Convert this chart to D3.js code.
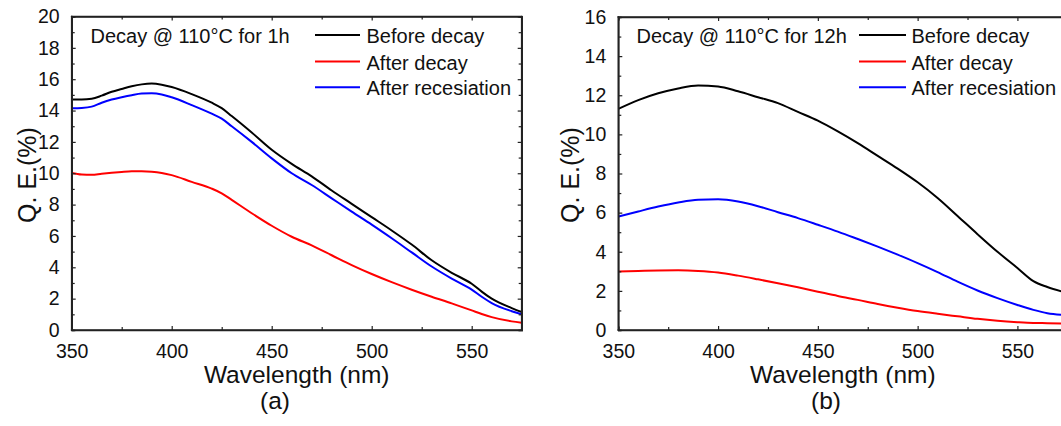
<!DOCTYPE html>
<html>
<head>
<meta charset="utf-8">
<script src="https://cdn.jsdelivr.net/npm/d3@7"></script>
<style>
  html, body { margin: 0; padding: 0; background: #fff; }
  svg { display: block; }
  text { font-family: "Liberation Sans", Arial, Helvetica, sans-serif; fill: #111; }
</style>
</head>
<body>
<svg id="chart" width="1061" height="426"></svg>
<script>
// ---------------- DATA ----------------
const seriesNames = ["Before decay", "After decay", "After recesiation"];
const seriesColors = ["#000000", "#ff0000", "#0000ff"];

// Panel (a): decay @ 110°C for 1h
const wavelengthA = [350,355,360,365,370,375,380,385,390,395,400,410,420,425,430,440,450,460,470,480,490,500,510,520,530,540,550,555,560,570,575];
const beforeA = [14.7,14.7,14.75,14.95,15.2,15.38,15.55,15.67,15.72,15.65,15.5,15.05,14.5,14.15,13.65,12.6,11.5,10.6,9.8,8.9,8.05,7.2,6.35,5.45,4.45,3.65,2.95,2.45,2.0,1.4,1.15];
const afterDecayA = [10.02,9.92,9.9,9.97,10.03,10.08,10.12,10.13,10.1,10.02,9.88,9.45,9.02,8.72,8.3,7.45,6.65,5.95,5.4,4.77,4.14,3.57,3.05,2.57,2.12,1.7,1.25,1.02,0.82,0.55,0.46];
const afterRecesA = [14.15,14.17,14.25,14.5,14.7,14.85,14.98,15.08,15.1,15.03,14.85,14.35,13.8,13.48,13.0,12.0,10.95,10.0,9.25,8.4,7.55,6.72,5.85,4.95,4.05,3.28,2.58,2.12,1.72,1.2,1.0];

// Panel (b): decay @ 110°C for 12h
const wavelengthB = [350,360,370,380,390,400,410,420,430,440,450,460,470,480,490,500,510,520,530,540,550,558,565,575];
const beforeB = [11.3,11.75,12.1,12.35,12.5,12.45,12.2,11.9,11.6,11.15,10.7,10.15,9.55,8.9,8.25,7.55,6.75,5.83,4.9,4.0,3.17,2.5,2.2,1.9];
const afterDecayB = [2.99,3.02,3.04,3.05,3.02,2.94,2.78,2.59,2.39,2.18,1.96,1.74,1.54,1.33,1.14,0.97,0.83,0.7,0.57,0.47,0.4,0.36,0.35,0.33];
const afterRecesB = [5.8,6.06,6.31,6.52,6.66,6.68,6.57,6.33,6.02,5.72,5.38,5.03,4.65,4.26,3.85,3.42,2.96,2.47,2.02,1.63,1.28,1.03,0.86,0.76];

const xTicks = [350,400,450,500,550];
const xMinorTicks = [375,425,475,525,575];
const yTicksA = [0,2,4,6,8,10,12,14,16,18,20];
const yTicksB = [0,2,4,6,8,10,12,14,16];

const titles = ["Decay @ 110\u00B0C for 1h", "Decay @ 110\u00B0C for 12h"];
const xTitle = "Wavelength (nm)";
const yTitle = "Q. E.(%)";
const panelLabels = ["(a)", "(b)"];

// ---------------- LAYOUT ----------------
const panels = [
  { x0: 71.7, x1: 521.7, y0: 330, y1: 16.5, ymax: 20, yTicks: yTicksA,
    wl: wavelengthA, series: [beforeA, afterDecayA, afterRecesA],
    title: titles[0], titleX: 90.5, legLineX: 315, legLineW: 45, legTextX: 366.5,
    yTitleX: 27, panelLabel: panelLabels[0], panelLabelX: 275 },
  { x0: 618.3, x1: 1067.3, y0: 330, y1: 17, ymax: 16, yTicks: yTicksB,
    wl: wavelengthB, series: [beforeB, afterDecayB, afterRecesB],
    title: titles[1], titleX: 636.5, legLineX: 859, legLineW: 47, legTextX: 911.5,
    yTitleX: 570, panelLabel: panelLabels[1], panelLabelX: 826 }
];

const svg = d3.select("#chart");

panels.forEach((p, pi) => {
  const x = d3.scaleLinear().domain([350, 575]).range([p.x0, p.x1]);
  const y = d3.scaleLinear().domain([0, p.ymax]).range([p.y0, p.y1]);
  const yMinor = d3.range(1, p.ymax, 2);

  const g = svg.append("g");

  // lines
  const line = d3.line()
    .x(d => x(d[0]))
    .y(d => y(d[1]))
    .curve(d3.curveMonotoneX);

  p.series.forEach((vals, si) => {
    const pts = p.wl.map((w, i) => [w, vals[i]]);
    g.append("path")
      .datum(pts)
      .attr("d", line)
      .attr("fill", "none")
      .attr("stroke", seriesColors[si])
      .attr("stroke-width", 2)
      .attr("stroke-linejoin", "round");
  });

  // axes (ticks inward)
  const axisColor = "#222";
  const bottom = g.append("g").attr("transform", `translate(0,${p.y0})`)
    .call(d3.axisBottom(x).tickValues(xTicks).tickSize(-4).tickPadding(14).tickFormat(d3.format("d")));
  bottom.append("g").call(d3.axisBottom(x).tickValues(xMinorTicks).tickSize(-3).tickFormat(""));
  const top = g.append("g").attr("transform", `translate(0,${p.y1})`)
    .call(d3.axisTop(x).tickValues(xTicks).tickSize(-4).tickFormat(""));
  top.append("g").call(d3.axisTop(x).tickValues(xMinorTicks).tickSize(-3).tickFormat(""));
  const left = g.append("g").attr("transform", `translate(${p.x0},0)`)
    .call(d3.axisLeft(y).tickValues(p.yTicks).tickSize(-4).tickPadding(12).tickFormat(d3.format("d")));
  left.append("g").call(d3.axisLeft(y).tickValues(yMinor).tickSize(-3).tickFormat(""));
  const right = g.append("g").attr("transform", `translate(${p.x1},0)`)
    .call(d3.axisRight(y).tickValues(p.yTicks).tickSize(-4).tickFormat(""));
  right.append("g").call(d3.axisRight(y).tickValues(yMinor).tickSize(-3).tickFormat(""));

  [bottom, top, left, right].forEach(a => {
    a.selectAll(".domain").attr("stroke", axisColor).attr("stroke-width", 1.6);
    a.selectAll(".tick line").attr("stroke", axisColor).attr("stroke-width", 1.2);
    a.selectAll(".tick text")
      .attr("font-family", "'Liberation Sans', Arial, sans-serif")
      .attr("font-size", 19.5).attr("fill", "#111");
  });
  bottom.selectAll(".tick text").attr("dy", "0.72em");
  bottom.select(".domain").attr("d", `M${p.x0 - 0.8},0H${p.x1}`);
  top.select(".domain").attr("d", `M${p.x0 - 0.8},0H${p.x1}`);
  left.select(".domain").attr("d", `M0,${p.y0 + 0.8}V${p.y1 - 0.8}`);
  right.select(".domain").attr("d", `M0,${p.y0 + 0.8}V${p.y1 - 0.8}`);

  // titles
  g.append("text")
    .attr("x", (p.x0 + p.x1) / 2).attr("y", 383)
    .attr("text-anchor", "middle").attr("font-size", 24.5)
    .text(xTitle);
  g.append("text")
    .attr("transform", `translate(${p.yTitleX + 9},${175}) rotate(-90)`)
    .attr("text-anchor", "middle").attr("font-size", 25)
    .text(yTitle);
  g.append("text")
    .attr("x", p.panelLabelX).attr("y", 409)
    .attr("text-anchor", "middle").attr("font-size", 24.5)
    .text(p.panelLabel);

  // legend
  g.append("text").attr("x", p.titleX).attr("y", 42.5)
    .attr("font-size", 20).text(p.title);
  const rowY = [35, 61.5, 87.3];
  seriesNames.forEach((name, si) => {
    g.append("line")
      .attr("x1", p.legLineX).attr("x2", p.legLineX + p.legLineW)
      .attr("y1", rowY[si]).attr("y2", rowY[si])
      .attr("stroke", seriesColors[si]).attr("stroke-width", 2);
    g.append("text").attr("x", p.legTextX).attr("y", rowY[si] + 8)
      .attr("font-size", 20).text(name);
  });
});
</script>
</body>
</html>
